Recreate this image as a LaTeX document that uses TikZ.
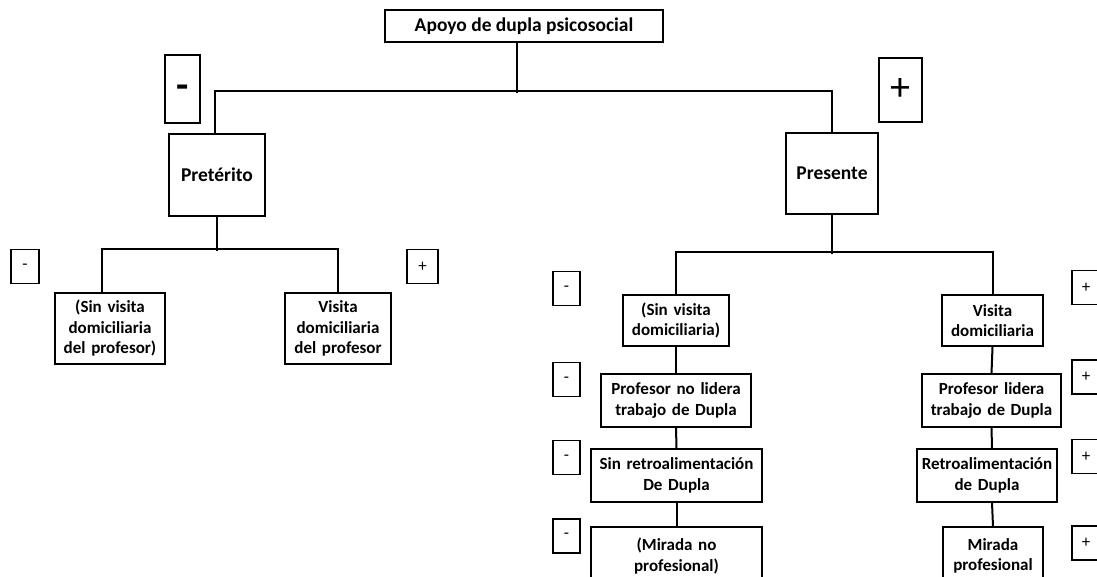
\documentclass[tikz,border=0pt]{standalone}
\usepackage{fontspec}
\setmainfont{Carlito}
\usetikzlibrary{positioning}

\begin{document}
\begin{tikzpicture}[
x=1pt, y=-1pt,
box/.style={draw, line width=1.6pt, align=center, inner sep=1pt, font=\bfseries\fontsize{17}{20.5}\selectfont},
bigbox/.style={box, font=\bfseries\fontsize{19.5}{23}\selectfont},
sign/.style={draw, line width=1.1pt, inner sep=0pt, minimum width=27pt, minimum height=34pt, font=\fontsize{17}{20}\selectfont},
bigsign/.style={draw, line width=1.6pt, inner sep=0pt, font=\fontsize{40}{40}\selectfont},
link/.style={line width=2pt}
]
\useasboundingbox (0,0) rectangle (1097,576);
\clip (0,0) rectangle (1097,576);

% root and first level
\node[bigbox, minimum width=278pt, minimum height=32pt] (apoyo) at (524,26) {Apoyo de dupla psicosocial};
\node[bigsign, minimum width=35pt, minimum height=68pt, font=\bfseries\fontsize{40}{40}\selectfont] (menos) at (182.5,89) {\raisebox{-9pt}[0pt][0pt]{-}};
\node[bigsign, minimum width=43pt, minimum height=64pt] (mas) at (900.5,90) {+};
\node[bigbox, minimum width=96pt, minimum height=82pt] (preterito) at (217,175) {Pretérito};
\node[bigbox, minimum width=92pt, minimum height=81pt] (presente) at (832,173.5) {Presente};

% past
\node[box, text width=108pt, minimum height=71pt] (sinvisitaA) at (110,328.5) {(Sin visita\\domiciliaria\\del profesor)};
\node[box, text width=104pt, minimum height=71pt] (visitaA) at (338,328.5) {Visita\\domiciliaria\\del profesor};
\node[sign, minimum width=28pt] (menosA) at (25,266.5) {-};
\node[sign, minimum width=31pt] (masA) at (422.5,266.5) {+};

% present, negative column
\node[box, text width=104pt, minimum height=51pt] (sinvisita) at (676,320.5) {(Sin visita\\domiciliaria)};
\node[box, text width=148pt, minimum height=53pt] (nolidera) at (676,400.5) {Profesor no lidera\\trabajo de Dupla};
\node[box, text width=169pt, minimum height=53pt] (sinretro) at (676.5,475.5) {Sin retroalimentación\\De Dupla};
\node[box, text width=169pt, minimum height=58pt] (noprof) at (676.5,556) {(Mirada no\\profesional)};

% present, positive column
\node[box, text width=99pt, minimum height=51pt] (visita) at (992.5,320.5) {Visita\\domiciliaria};
\node[box, text width=137pt, minimum height=53pt] (lidera) at (991.5,400.5) {Profesor lidera\\trabajo de Dupla};
\node[box, text width=138pt, minimum height=53pt] (retro) at (987,475.5) {Retroalimentación\\de Dupla};
\node[box, text width=98pt, minimum height=58pt] (prof) at (993,556) {Mirada\\profesional};

% signs
\node[sign] (menos1) at (566.5,288.5) {-};
\node[sign] (menos2) at (566.5,379.5) {-};
\node[sign] (menos3) at (566.5,457.5) {-};
\node[sign] (menos4) at (566.5,536) {-};
\node[sign, minimum width=28pt] (mas1) at (1086,287.5) {+};
\node[sign, minimum width=28pt] (mas2) at (1086,377) {+};
\node[sign, minimum width=28pt] (mas3) at (1086,456.5) {+};
\node[sign, minimum width=28pt] (mas4) at (1086,543) {+};

% connectors
\draw[link] ([xshift=-7pt]apoyo.south) -- ++(0,50);
\draw[link] ([xshift=-2pt]preterito.north) -- ++(0,-42) -| (presente.north);
\draw[link] (preterito.south) -- ++(0,34);
\draw[link] ([xshift=-8pt]sinvisitaA.north) -- ++(0,-43) -| (visitaA.north);
\draw[link] (presente.south) -- ++(0,39);
\draw[link] (sinvisita.north) -- ++(0,-42) -| (visita.north);
\draw[link] (sinvisita.south) -- (nolidera.north);
\draw[link] (nolidera.south) -- (sinretro.north);
\draw[link] (sinretro.south) -- (noprof.north);
\draw[link] (visita.south) -- (lidera.north);
\draw[link] (lidera.south) -- ([xshift=5pt]retro.north);
\draw[link] ([xshift=5pt]retro.south) -- (prof.north);

\end{tikzpicture}
\end{document}
